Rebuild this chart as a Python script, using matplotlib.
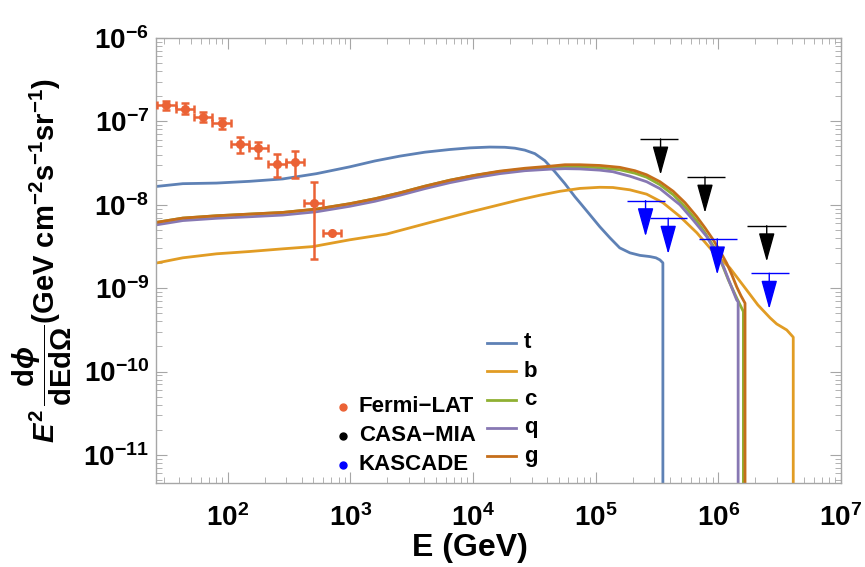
import numpy as np
import matplotlib; matplotlib.use("Agg")
import matplotlib.pyplot as plt
from matplotlib.ticker import LogLocator, NullFormatter, FuncFormatter, FixedLocator
from matplotlib.lines import Line2D

plt.rcParams["font.family"] = ["Liberation Sans", "DejaVu Sans"]
plt.rcParams["font.weight"] = "bold"
plt.rcParams["mathtext.fontset"] = "custom"
plt.rcParams["mathtext.rm"] = "Liberation Sans:bold"
plt.rcParams["mathtext.bf"] = "Liberation Sans:bold"
plt.rcParams["mathtext.it"] = "Liberation Sans:bold:italic"
plt.rcParams["mathtext.fallback"] = "stixsans"

# ---- annihilation channel spectra (E in GeV, E^2 dphi/dE dOmega) ----
E_t = [26.4, 43, 81, 151, 281, 529, 989, 1581, 2530, 4045, 6470, 9420, 13700, 18160,
       21930, 26430, 31920, 38500, 46450, 56100, 67600, 74300, 89700, 108000, 130600,
       157000, 190100, 229600, 276700, 309700, 334000, 353000, 353000]
F_t = [1.66e-8, 1.79e-8, 1.82e-8, 1.91e-8, 2.04e-8, 2.36e-8, 2.85e-8, 3.35e-8, 3.83e-8,
       4.27e-8, 4.60e-8, 4.81e-8, 4.92e-8, 4.89e-8, 4.77e-8, 4.52e-8, 4.10e-8, 3.38e-8,
       2.49e-8, 1.79e-8, 1.25e-8, 1.06e-8, 7.59e-9, 5.45e-9, 4.01e-9, 3.04e-9, 2.65e-9,
       2.47e-9, 2.39e-9, 2.31e-9, 2.18e-9, 2.01e-9, 1e-14]

E_b = [26.2, 43, 81, 151, 281, 494, 989, 1970, 4440, 9420, 24100, 35060, 51000, 74300,
       108000, 138000, 190100, 260000, 353000, 486000, 668000, 904000, 1.24e6, 1.70e6,
       2.10e6, 2.64e6, 2.99e6, 3.61e6, 4.08e6, 4.08e6]
F_b = [2.0e-9, 2.31e-9, 2.58e-9, 2.75e-9, 2.96e-9, 3.15e-9, 3.80e-9, 4.45e-9, 6.12e-9,
       8.17e-9, 1.15e-8, 1.30e-8, 1.45e-8, 1.57e-8, 1.62e-8, 1.61e-8, 1.51e-8, 1.34e-8,
       1.06e-8, 7.23e-9, 4.61e-9, 2.75e-9, 1.75e-9, 9.5e-10, 6.29e-10, 4.40e-10, 3.72e-10,
       3.15e-10, 2.58e-10, 1e-14]

E_c = [26.4, 43, 81, 151, 281, 529, 989, 1581, 2530, 4045, 6470, 10350, 16500, 26430,
       42300, 56100, 74300, 108000, 157000, 208900, 260000, 334000, 428600, 534500,
       665000, 777800, 908000, 1.03e6, 1.205e6, 1.41e6, 1.60e6, 1.60e6]
F_c = [6.16e-9, 6.92e-9, 7.38e-9, 7.73e-9, 8.09e-9, 8.88e-9, 1.03e-8, 1.18e-8, 1.39e-8,
       1.67e-8, 1.97e-8, 2.25e-8, 2.50e-8, 2.67e-8, 2.80e-8, 2.86e-8, 2.86e-8, 2.78e-8,
       2.63e-8, 2.39e-8, 2.14e-8, 1.74e-8, 1.32e-8, 9.46e-9, 6.42e-9, 4.61e-9, 3.22e-9,
       2.25e-9, 1.26e-9, 7.64e-10, 5.23e-10, 1e-14]

E_q = [26.4, 43, 81, 151, 281, 529, 989, 1581, 2530, 4045, 6470, 10350, 16500, 26430,
       42300, 56100, 74300, 108000, 138000, 190100, 260000, 334000, 486000, 621000,
       803000, 938000, 1.10e6, 1.24e6, 1.41e6, 1.45e6, 1.45e6]
F_q = [5.75e-9, 6.46e-9, 6.88e-9, 7.18e-9, 7.52e-9, 8.24e-9, 9.59e-9, 1.10e-8, 1.30e-8,
       1.56e-8, 1.84e-8, 2.11e-8, 2.36e-8, 2.56e-8, 2.67e-8, 2.71e-8, 2.69e-8, 2.60e-8,
       2.49e-8, 2.20e-8, 1.89e-8, 1.56e-8, 1.0e-8, 6.60e-9, 4.16e-9, 2.80e-9, 1.82e-9,
       1.16e-9, 7.22e-10, 6.84e-10, 1e-14]

E_g = [26.4, 43, 81, 151, 281, 529, 989, 1581, 2530, 4045, 6470, 10350, 16500, 26430,
       42300, 56100, 74300, 108000, 157000, 208900, 260000, 334000, 428600, 534500,
       665000, 777800, 908000, 1.03e6, 1.17e6, 1.29e6, 1.41e6, 1.53e6, 1.65e6, 1.65e6]
F_g = [6.16e-9, 6.92e-9, 7.38e-9, 7.73e-9, 8.09e-9, 8.88e-9, 1.03e-8, 1.18e-8, 1.39e-8,
       1.67e-8, 1.97e-8, 2.26e-8, 2.53e-8, 2.74e-8, 2.90e-8, 3.02e-8, 3.02e-8, 2.96e-8,
       2.81e-8, 2.56e-8, 2.29e-8, 1.89e-8, 1.45e-8, 1.06e-8, 7.23e-9, 5.29e-9, 3.80e-9,
       2.80e-9, 1.99e-9, 1.44e-9, 1.04e-9, 8.07e-10, 6.60e-10, 1e-14]

CHANNELS = ["t", "b", "c", "q", "g"]

# ---- Fermi-LAT data ----
E_fermi = [31.6, 44.7, 63.1, 89.1, 126, 178, 251, 355, 501, 708]
E_fermi_lo = [26.6, 37.6, 53.1, 75.0, 106, 150, 211, 299, 422, 596]
E_fermi_hi = [37.6, 53.1, 75.0, 106, 150, 211, 299, 422, 596, 841]
F_fermi = [1.56e-7, 1.41e-7, 1.13e-7, 9.6e-8, 5.4e-8, 4.75e-8, 3.1e-8, 3.26e-8, 1.04e-8, 4.57e-9]
F_fermi_hi = [1.74e-7, 1.68e-7, 1.29e-7, 1.10e-7, 6.5e-8, 5.66e-8, 4.1e-8, 4.36e-8, 1.85e-8, 4.57e-9]
F_fermi_lo = [1.38e-7, 1.21e-7, 9.8e-8, 8.2e-8, 4.2e-8, 3.64e-8, 2.15e-8, 2.09e-8, 2.23e-9, 4.57e-9]

# ---- upper limits ----
E_casa = [3.38e5, 7.78e5, 2.48e6]
E_casa_lo = [2.30e5, 5.51e5, 1.70e6]
E_casa_hi = [4.68e5, 1.13e6, 3.54e6]
F_casa = [6.15e-8, 2.15e-8, 5.6e-9]

E_kas = [2.55e5, 3.9e5, 9.8e5, 2.6e6]
E_kas_lo = [1.79e5, 2.77e5, 6.98e5, 1.85e6]
E_kas_hi = [3.67e5, 5.51e5, 1.43e6, 3.77e6]
F_kas = [1.12e-8, 6.9e-9, 3.9e-9, 1.51e-9]

EXPERIMENTS = ["Fermi\u2212LAT", "CASA\u2212MIA", "KASCADE"]

X_TICKS = [1e2, 1e3, 1e4, 1e5, 1e6, 1e7]
Y_TICKS = [1e-11, 1e-10, 1e-9, 1e-8, 1e-7, 1e-6]

C_T, C_B, C_C, C_Q, C_G = "#5E81B5", "#E19C24", "#8FB032", "#8778B3", "#C56E1A"
C_FERMI, C_CASA, C_KAS = "#EB6235", "black", "#0000FF"
FRAME = "#A6A6A6"

W, H = 865, 567
fig = plt.figure(figsize=(W/100, H/100), dpi=100)
ax = fig.add_axes([156/W, 1-483/H, 685/W, 445/H])

lw = 2.0
curves = [(E_t, F_t, C_T), (E_b, F_b, C_B), (E_c, F_c, C_C), (E_q, F_q, C_Q), (E_g, F_g, C_G)]
for (E, F, col), name in zip(curves, CHANNELS):
    ax.plot(E, F, color=col, lw=lw, label=name)

E_f = np.array(E_fermi); F_f = np.array(F_fermi)
ax.errorbar(E_f, F_f,
            xerr=[E_f - np.array(E_fermi_lo), np.array(E_fermi_hi) - E_f],
            yerr=[F_f - np.array(F_fermi_lo), np.array(F_fermi_hi) - F_f],
            fmt="o", ms=5.5, color=C_FERMI, elinewidth=1.8, capsize=3, capthick=1.8, zorder=5)

def upper_limits(E, lo, hi, F, color):
    ax.hlines(F, lo, hi, color=color, lw=1.0, zorder=6)
    for e, f in zip(E, F):
        ax.annotate("", xy=(e, f / 2.69), xytext=(e, f),
                    arrowprops=dict(arrowstyle="-|>,head_length=1.8,head_width=0.5",
                                    mutation_scale=10, lw=1.0, color=color,
                                    shrinkA=0, shrinkB=0), zorder=6)

upper_limits(E_casa, E_casa_lo, E_casa_hi, F_casa, C_CASA)
upper_limits(E_kas, E_kas_lo, E_kas_hi, F_kas, C_KAS)

ax.set_xscale("log"); ax.set_yscale("log")
ax.set_xlim(26, 1e7); ax.set_ylim(4.6e-12, 1e-6)

for axis, ticks in ((ax.xaxis, X_TICKS), (ax.yaxis, Y_TICKS)):
    axis.set_major_locator(FixedLocator(ticks))
    axis.set_minor_locator(LogLocator(base=10, subs=np.arange(2, 10), numticks=100))
    axis.set_minor_formatter(NullFormatter())
    axis.set_major_formatter(FuncFormatter(
        lambda v, p: r"$\mathbf{10^{%d}}$" % int(round(np.log10(v)))))

ax.tick_params(which="both", direction="in", top=True, right=True, color=FRAME,
               labelsize=20)
ax.tick_params(which="major", length=8, width=0.8, pad=5)
ax.tick_params(axis="x", which="major", pad=15)
ax.tick_params(which="minor", length=4.5, width=0.6)
for s in ax.spines.values():
    s.set_color(FRAME); s.set_linewidth(1.0)

ax.set_xlabel("E (GeV)", fontsize=23, fontweight="bold")
ax.xaxis.set_label_coords((470 - 156) / 685, -0.112)
ax.set_ylabel(r"$\mathit{E}^{2}\,\dfrac{\mathrm{d}\phi}{\mathrm{dEd}\Omega}$"
              r"(GeV cm$^{-2}$s$^{-1}$sr$^{-1}$)", fontsize=21, fontweight="bold")
ax.yaxis.set_label_coords((74 - 156) / 685, 0.5)

# ---- legends (Mathematica-style, no frame) ----
for i, ((_, _, col), name) in enumerate(zip(curves, CHANNELS)):
    y = 1 - (343 + 28.3 * i) / H
    fig.add_artist(Line2D([487/W, 516/W], [y, y], color=col, lw=lw,
                          transform=fig.transFigure))
    fig.text(524/W, y, name, fontsize=16, fontweight="bold", va="center", ha="left")

for i, (name, col) in enumerate(zip(EXPERIMENTS, (C_FERMI, C_CASA, C_KAS))):
    y = 1 - (407 + 28.8 * i) / H
    fig.add_artist(Line2D([343/W], [y], ls="none", marker="o", ms=5, color=col,
                          transform=fig.transFigure))
    fig.text(359/W, y, name, fontsize=16, fontweight="bold", va="center", ha="left")

fig.savefig("out.png", dpi=100)
